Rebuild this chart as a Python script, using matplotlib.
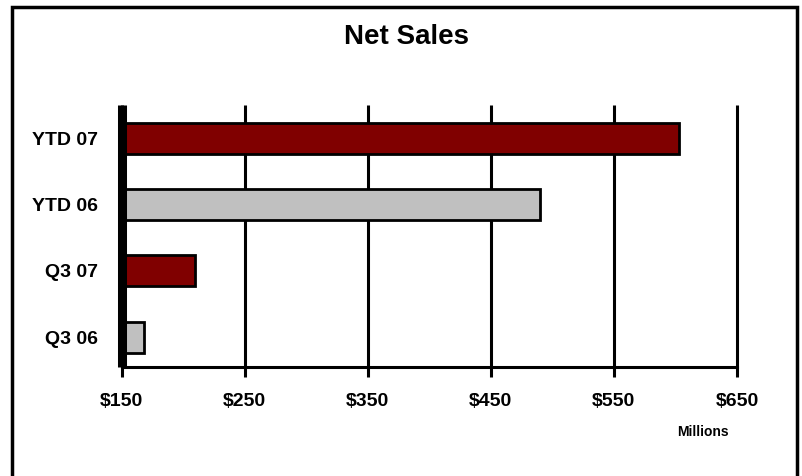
import matplotlib
matplotlib.use("Agg")
import matplotlib.pyplot as plt
from matplotlib.patches import Rectangle

categories = ["Q3 06", "Q3 07", "YTD 06", "YTD 07"]
values = [168, 210, 490, 603]
colors = ["#C0C0C0", "#800000", "#C0C0C0", "#800000"]
xticks = [150, 250, 350, 450, 550, 650]
xtick_labels = ["$150", "$250", "$350", "$450", "$550", "$650"]

plt.rcParams['font.family'] = ['Liberation Sans', 'DejaVu Sans']

fig = plt.figure(figsize=(8.02, 4.76), dpi=100)
ax = fig.add_axes([121.5/802, 1-367/476, (737-121.5)/802, (367-105)/476])

base = xticks[0]
ax.barh(range(len(categories)), [v - base for v in values], left=base, height=0.47,
        color=colors, edgecolor="black", linewidth=2, zorder=3)

ax.set_xlim(xticks[0], xticks[-1])
ax.set_ylim(-0.45, 3.5)
ax.set_xticks(xticks)
ax.set_xticklabels(xtick_labels, fontsize=14, fontweight="bold")
ax.set_yticks(range(len(categories)))
ax.set_yticklabels(categories, fontsize=14, fontweight="bold")
ax.tick_params(axis="x", direction="out", length=7.5, width=2.2, pad=11, color="black")
ax.tick_params(axis="y", length=0, pad=17)

ax.grid(axis="x", color="black", linewidth=2.2, zorder=1)
for ln in ax.get_xgridlines():
    ln.set_clip_on(False)
    ln.set_solid_capstyle("butt")
ax.set_axisbelow(True)

ax.spines["top"].set_visible(False)
ax.spines["right"].set_visible(False)
ax.spines["bottom"].set_linewidth(2.2)
ax.spines["left"].set_linewidth(6.5)
ax.spines["left"].set_capstyle("butt")
ax.spines["left"].set_zorder(5)

fig.text(406/802, 1-37/476, "Net Sales", ha="center", va="center",
         fontsize=20, fontweight="bold")
fig.text(703/802, 1-432/476, "Millions", ha="center", va="center",
         fontsize=10, fontweight="bold")

fig.patches.append(Rectangle((12/802, -0.05), (797-12)/802, 1.05 - 7/476,
                             transform=fig.transFigure, fill=False,
                             edgecolor="black", linewidth=2.5, figure=fig))

fig.savefig("out.png", dpi=100)
